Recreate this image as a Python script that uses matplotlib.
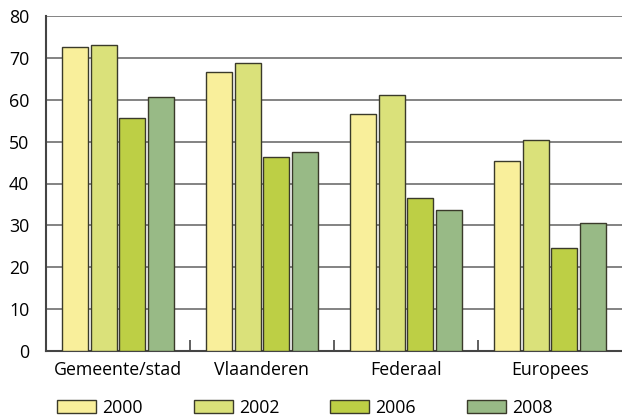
import numpy as np
import matplotlib
matplotlib.use('Agg')
import matplotlib.pyplot as plt

categories = ['Gemeente/stad', 'Vlaanderen', 'Federaal', 'Europees']
years = ['2000', '2002', '2006', '2008']
v2000 = [72.5, 66.7, 56.7, 45.3]
v2002 = [73.1, 68.7, 61.1, 50.5]
v2006 = [55.7, 46.3, 36.5, 24.7]
v2008 = [60.6, 47.6, 33.6, 30.6]
colors = ['#F9EF9B', '#DAE17A', '#BDCF45', '#98BA86']

plt.rcParams['font.family'] = ['Open Sans', 'DejaVu Sans']
fs = 12.8

fig = plt.figure(figsize=(6.22, 4.17), dpi=100)
ax = fig.add_axes([46 / 622, 66 / 417, 576 / 622, 335 / 417])

x = np.arange(len(categories))
offsets = [-0.3, -0.1, 0.1, 0.3]
for vals, off, c, lab in zip([v2000, v2002, v2006, v2008], offsets, colors, years):
    ax.bar(x + off, vals, width=0.18, color=c, edgecolor='#3a3a2a', linewidth=1.0,
           label=lab, zorder=3)

ax.set_xlim(-0.5, 3.5)
ax.set_ylim(0, 80)
ax.set_yticks(range(0, 81, 10))
ax.yaxis.grid(True, color='#6e6e6e', linewidth=1.2, zorder=0)
ax.set_axisbelow(True)

# category labels between boundary ticks
ax.set_xticks([0.5, 1.5, 2.5], minor=False)
ax.set_xticklabels([])
ax.tick_params(axis='x', which='major', direction='in', length=8, color='#444444', width=1.2)
ax.set_xticks(x, minor=True)
ax.set_xticklabels(categories, minor=True, fontsize=fs)
ax.tick_params(axis='x', which='minor', length=0, pad=7)
ax.tick_params(axis='y', length=0, labelsize=fs, pad=12)

for s in ['top', 'right']:
    ax.spines[s].set_visible(False)
for s in ['left', 'bottom']:
    ax.spines[s].set_color('#444444')
    ax.spines[s].set_linewidth(1.5)

fig.legend(loc='center left', bbox_to_anchor=(57 / 622, 9 / 417), ncol=4, frameon=False,
           fontsize=fs, handlelength=2.2, handleheight=0.75, columnspacing=2.85,
           handletextpad=0.35, borderpad=0, borderaxespad=0)

fig.savefig('out.png', dpi=100)
